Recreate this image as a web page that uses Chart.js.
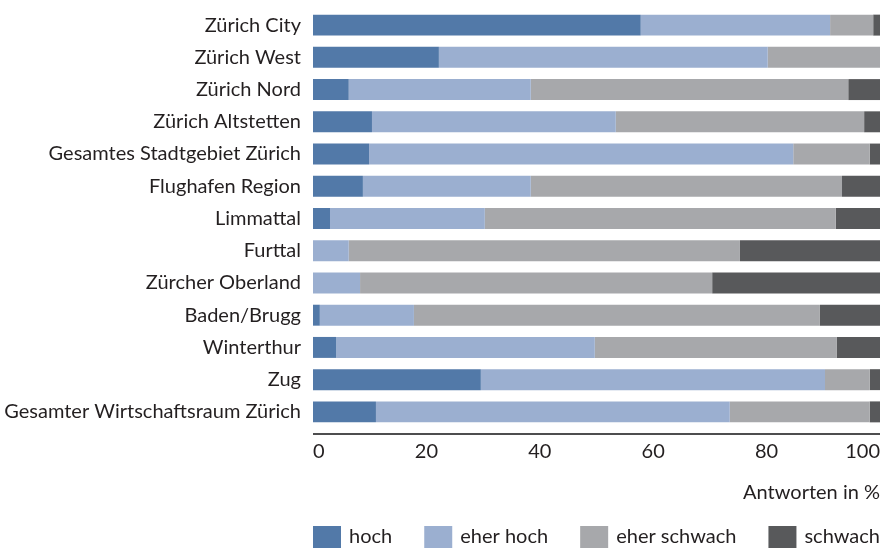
<!DOCTYPE html>
<html>
<head>
<meta charset="utf-8">
<script src="https://cdn.jsdelivr.net/npm/chart.js@4"></script>
<style>
html,body{margin:0;padding:0;background:#fff;overflow:hidden;}
</style>
</head>
<body>
<canvas id="regionChart" width="883" height="548"></canvas>
<script>
// Antworten je Region, Anteile in %
const regions=['Zürich City','Zürich West','Zürich Nord','Zürich Altstetten','Gesamtes Stadtgebiet Zürich','Flughafen Region','Limmattal','Furttal','Zürcher Oberland','Baden/Brugg','Winterthur','Zug','Gesamter Wirtschaftsraum Zürich'];
const hoch=[57.8,22.2,6.3,10.4,9.9,8.8,3.0,0,0,1.2,4.1,29.6,11.1];
const eherHoch=[33.4,58.0,32.1,43.0,74.8,29.6,27.3,6.3,8.3,16.6,45.6,60.7,62.4];
const eherSchwach=[7.6,19.8,56.0,43.8,13.5,54.9,61.9,69.0,62.1,71.6,42.7,7.9,24.7];
const schwach=[1.2,0,5.6,2.8,1.8,6.7,7.8,24.7,29.6,10.6,7.6,1.8,1.8];
const seriesNames=['hoch','eher hoch','eher schwach','schwach'];
const seriesColors=['#5279a8','#9bafd0','#a7a8ab','#58595b'];
const xTitle='Antworten in %';

const FONT='Lato';
const TEXT='#231f20';
Chart.defaults.font.family=FONT;
Chart.defaults.font.size=20;
Chart.defaults.color=TEXT;

// axis line sits a few px below the last bar
const axisLine={
    id:'axisLine',
    afterDraw(chart){
        const {ctx,chartArea}=chart;
        ctx.save();
        ctx.strokeStyle='#4d4d4f';
        ctx.lineWidth=2;
        ctx.beginPath();
        ctx.moveTo(chartArea.left,chartArea.bottom+6);
        ctx.lineTo(chartArea.right,chartArea.bottom+6);
        ctx.stroke();
        ctx.restore();
    }
};

// legend spread over the width of the plot
const spreadLegend={
    id:'spreadLegend',
    afterDraw(chart){
        const {ctx,chartArea}=chart;
        const boxW=28,boxH=22,gapText=8,top=526;
        ctx.save();
        ctx.font='20px '+FONT;
        const items=chart.data.datasets.map(ds=>({ds,w:boxW+gapText+ctx.measureText(ds.label).width}));
        const total=items.reduce((s,it)=>s+it.w,0);
        const gap=(chartArea.right-chartArea.left-total)/(items.length-1);
        let x=chartArea.left;
        items.forEach(it=>{
            ctx.fillStyle=it.ds.backgroundColor;
            ctx.fillRect(x,top,boxW,boxH);
            ctx.fillStyle=TEXT;
            ctx.textBaseline='middle';
            ctx.textAlign='left';
            ctx.fillText(it.ds.label,x+boxW+gapText,top+boxH/2);
            x+=it.w+gap;
        });
        ctx.restore();
    }
};

const seriesData=[hoch,eherHoch,eherSchwach,schwach];

new Chart(document.getElementById('regionChart'),{
    type:'bar',
    data:{
        labels:regions,
        datasets:seriesNames.map((name,i)=>({
            label:name,
            data:seriesData[i],
            backgroundColor:seriesColors[i],
            borderWidth:0,
            barPercentage:0.65,
            categoryPercentage:1
        }))
    },
    options:{
        indexAxis:'y',
        responsive:false,
        animation:false,
        layout:{padding:{top:9,right:3,bottom:40,left:0}},
        plugins:{legend:{display:false},tooltip:{enabled:false}},
        scales:{
            x:{
                stacked:true,min:0,max:100,
                grid:{display:false,drawTicks:false},
                border:{display:false},
                ticks:{stepSize:20,align:'inner',padding:12,color:TEXT},
                title:{display:true,text:xTitle,align:'end',color:TEXT,padding:{top:0,bottom:3}},
                afterFit(s){s.height=80;s.paddingLeft=0;s.paddingRight=0;}
            },
            y:{
                stacked:true,
                grid:{display:false,drawTicks:false},
                border:{display:false},
                ticks:{padding:12,color:TEXT},
                afterFit(s){s.width=313;s.paddingTop=0;s.paddingBottom=0;}
            }
        }
    },
    plugins:[axisLine,spreadLegend]
});
</script>
</body>
</html>
